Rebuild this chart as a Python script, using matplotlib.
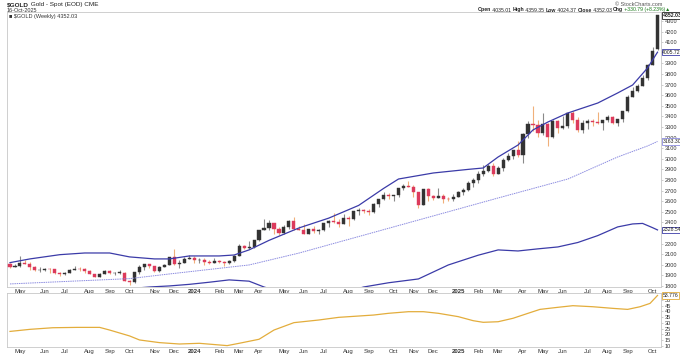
import matplotlib
matplotlib.use("Agg")
import matplotlib.pyplot as plt
import numpy as np
import pandas as pd

# ---------------- data ----------------
DATES = pd.date_range("2023-04-17", periods=131, freq="W-MON")

OPEN = [2004,1983,1990,2016,2011,1977,1946,1948,1961,1958,1921,1912,1925,1955,1962,1959,1943,1914,1889,1915,1940,1919,1924,1925,1849,1833,1932,1981,2006,1992,1940,1981,2002,2072,2004,2019,2053,
        2063,2045,2049,2029,2018,2039,2024,2013,2035,2083,2179,2155,2165,2230,2329,2344,2392,2337,2301,2360,2415,2334,2327,2293,2333,2322,2326,2391,2411,2400,2387,2443,2431,2507,2512,2503,2497,2577,2622,2658,2653,2657,2721,2747,2737,2685,2563,2716,2650,2633,2648,2622,2621,
        2640,2690,2702,2770,2800,2861,2883,2936,2858,2910,2984,3022,3085,3037,3237,3327,3319,3241,3325,3202,3357,3289,3310,3433,3368,3274,3337,3355,3350,3337,3363,3398,3336,3371,3448,3586,3643,3685,3760,3887,4035]
HIGH = [2015,2009,2081,2048,2022,1985,1983,1972,1971,1959,1930,1935,1963,1987,1983,1970,1946,1916,1922,1953,1953,1933,1947,1936,1859,1932,1997,2009,2010,1992,1988,2008,2075,2146,2047,2070,2088,
        2078,2062,2062,2041,2065,2045,2031,2041,2088,2195,2185,2223,2236,2330,2431,2418,2393,2353,2378,2422,2450,2364,2388,2342,2368,2340,2393,2424,2484,2432,2477,2462,2509,2531,2528,2529,2585,2625,2685,2673,2660,2722,2758,2790,2750,2686,2716,2721,2657,2726,2665,2638,2665,
        2697,2726,2786,2817,2887,2942,2955,2956,2930,3005,3057,3087,3168,3245,3358,3500,3368,3435,3336,3366,3365,3403,3446,3452,3398,3365,3374,3375,3439,3363,3409,3404,3379,3454,3600,3675,3707,3791,3897,4059,4359]
LOW = [1969,1975,1977,2008,1952,1937,1932,1939,1925,1910,1893,1902,1920,1946,1942,1925,1908,1885,1884,1913,1915,1901,1914,1846,1810,1831,1908,1954,1970,1932,1932,1977,1994,1994,1973,2017,2050,
       2016,2013,2001,2010,2016,2015,1984,2011,2024,2078,2146,2146,2160,2228,2328,2325,2292,2277,2291,2338,2325,2325,2287,2286,2296,2293,2319,2352,2398,2353,2380,2364,2425,2470,2491,2471,2485,2546,2614,2624,2603,2641,2708,2732,2643,2537,2563,2605,2613,2632,2583,2603,2597,
       2636,2656,2697,2730,2772,2834,2878,2833,2856,2880,2982,2999,3015,2957,3194,3260,3202,3228,3121,3200,3245,3280,3293,3340,3256,3247,3283,3310,3325,3268,3346,3331,3311,3350,3437,3585,3628,3683,3742,3885,4024]
CLOSE = [1983,1990,2016,2011,1977,1946,1948,1961,1958,1921,1912,1925,1955,1962,1959,1943,1914,1889,1915,1940,1919,1924,1925,1849,1833,1932,1981,2006,1992,1940,1981,2002,2072,2004,2019,2053,2063,
         2045,2049,2029,2018,2039,2024,2013,2035,2083,2179,2155,2165,2230,2329,2344,2392,2337,2301,2360,2415,2334,2327,2293,2333,2322,2326,2391,2411,2400,2387,2443,2431,2507,2512,2503,2497,2577,2622,2658,2653,2657,2721,2747,2737,2685,2563,2716,2650,2633,2648,2622,2621,2640,
         2690,2702,2770,2800,2861,2883,2936,2858,2910,2984,3022,3085,3037,3237,3327,3319,3241,3325,3202,3357,3289,3310,3433,3368,3274,3337,3355,3350,3337,3363,3398,3336,3371,3448,3586,3643,3685,3760,3887,4018,4352.03]

UPPER_WK = [0, 4, 10, 15, 20, 24, 29, 32, 36, 42, 45, 48, 52, 58, 64, 70, 75, 78, 85, 92, 95, 98, 102, 105, 108, 112, 118, 122, 125, 128, 130]
UPPER = [2020, 2055, 2095, 2111, 2111, 2074, 2055, 2055, 2083, 2083, 2092, 2140, 2230, 2347, 2440, 2560, 2720, 2809, 2866, 2900, 2913, 3017, 3130, 3272, 3347, 3432, 3526, 3621, 3696, 3857, 4005.72]

MID_WK = [0, 24, 32, 48, 58, 68, 78, 88, 98, 112, 122, 128, 130]
MID = [1819, 1869, 1913, 1998, 2110, 2240, 2370, 2500, 2630, 2809, 3017, 3121, 3163.30]

LOWER_WK = [20, 28, 32, 36, 40, 44, 48, 51, 56, 64, 71, 76, 82, 88, 94, 98, 102, 106, 110, 114, 118, 122, 125, 127, 129, 130]
LOWER = [1760, 1790, 1800, 1815, 1835, 1857, 1845, 1790, 1720, 1700, 1790, 1830, 1866, 1998, 2090, 2140, 2130, 2150, 2168, 2210, 2275, 2357, 2385, 2390, 2350, 2328.54]

IND_WK = [0, 4, 8.6, 13.5, 18, 20, 24, 26, 30, 34, 38, 43.6, 46, 50, 53, 57, 62, 66, 73, 76, 80, 83, 86, 90, 93, 95, 98, 101, 104, 106.4, 110, 113, 117, 121, 124, 126.5, 128.5, 130]
IND = [22.6, 24.4, 25.8, 26.1, 26.1, 23.8, 18.7, 15.2, 12.9, 11.7, 12.3, 10.3, 12.3, 15.8, 23.8, 30.2, 32.5, 34.8, 36.8, 38.3, 39.7, 39.7, 38.3, 35.4, 31.9, 30.5, 31.0, 34.0, 38.3, 41.7, 43.5, 44.9, 44.0, 42.6, 41.7, 44.0, 46.9, 53.776]

PRICE_TICKS = list(range(1800, 4301, 100))
IND_TICKS = list(range(10, 56, 5))

# ---------------- style ----------------
FONT = "Liberation Sans"
plt.rcParams["font.family"] = [FONT, "DejaVu Sans"]
W, H = 680, 355
fig = plt.figure(figsize=(W / 100, H / 100), dpi=100)
fig.patch.set_facecolor("white")

def fx(px):
    return px / W

def fy(py):
    return 1 - py / H

L_PX, R_PX = 7, 661
ax = fig.add_axes([fx(L_PX), fy(287), fx(R_PX - L_PX), (287 - 12) / H])
ax2 = fig.add_axes([fx(L_PX), fy(347), fx(R_PX - L_PX), (347 - 293) / H])

N = len(CLOSE)
xs = np.arange(N)
o = np.array(OPEN, float); h = np.array(HIGH, float); l = np.array(LOW, float); c = np.array(CLOSE, float)
prev = np.concatenate([[o[0]], c[:-1]])
down = c < prev

RED = "#dc3a5c"
BLK = "#333333"
WICK_UP = "#8a8a8a"
WICK_DN = "#f0b07a"

body_col = np.where(down, RED, BLK)
wick_col = np.where(down, WICK_DN, WICK_UP)
ax.vlines(xs, l, h, colors=wick_col, linewidth=0.8, zorder=2)
bottoms = np.minimum(o, c)
heights = np.maximum(np.abs(c - o), 4)
ax.bar(xs, heights, bottom=bottoms, width=0.62, color=body_col, edgecolor=body_col, linewidth=0.3, zorder=3)

ax.plot(UPPER_WK, UPPER, color="#3b3ba8", lw=0.9, zorder=4)
ax.plot(LOWER_WK, LOWER, color="#3b3ba8", lw=0.9, zorder=4)
ax.plot(MID_WK, MID, color="#8c8ce0", lw=0.7, ls=(0, (1.5, 0.8)), zorder=4)

XMIN, XMAX = -0.6, 130.7
ax.set_xlim(XMIN, XMAX)
ax.set_ylim(1790, 4385)
ax2.set_xlim(XMIN, XMAX)
ax2.set_ylim(9.1, 55.9)

ax2.plot(IND_WK, IND, color="#e3ad3c", lw=0.9)

# month ticks
mt_pos, mt_lab, mt_bold = [], [], []
for i, d in enumerate(DATES):
    if i == 0:
        continue
    if d.month != DATES[i - 1].month:
        mt_pos.append(i)
        if d.month == 1:
            mt_lab.append(str(d.year)); mt_bold.append(True)
        else:
            mt_lab.append(d.strftime("%b")); mt_bold.append(False)

for a in (ax, ax2):
    for s in a.spines.values():
        s.set_color("#c8c8c8")
        s.set_linewidth(0.6)
    a.set_xticks(mt_pos)
    a.set_xticklabels(mt_lab, fontsize=4.3, color="#333333")
    for t, b in zip(a.get_xticklabels(), mt_bold):
        if b:
            t.set_fontweight("bold")
    a.tick_params(axis="x", length=0, pad=1.2)
    a.yaxis.tick_right()
    a.tick_params(axis="y", length=1.5, width=0.4, color="#aaaaaa", pad=1.2, labelsize=4.1, labelcolor="#333333")

# tick labels hidden behind the value boxes (as in the reference) are left blank
HIDDEN = {4000, 2300}
ax.set_yticks(PRICE_TICKS)
ax.set_yticklabels(["" if v in HIDDEN else str(v) for v in PRICE_TICKS])
ax2.set_yticks(IND_TICKS)
ax2.set_yticklabels([str(v) for v in IND_TICKS])

# value boxes on right axis
def vbox(a, val, txt, edge, bold=False):
    a.annotate(txt, xy=(1.0, val), xycoords=("axes fraction", "data"),
               xytext=(1.0, 0), textcoords="offset points", va="center", ha="left",
               fontsize=3.7, fontweight="bold" if bold else "normal", color="#222222",
               bbox=dict(boxstyle="square,pad=0.12", fc="white", ec=edge, lw=0.6), zorder=10,
               annotation_clip=False)

vbox(ax, CLOSE[-1], f"{CLOSE[-1]:.2f}", "#222222", bold=True)
vbox(ax, UPPER[-1], f"{UPPER[-1]:.2f}", "#3b3ba8")
vbox(ax, MID[-1], f"{MID[-1]:.2f}", "#8c8ce0")
vbox(ax, LOWER[-1], f"{LOWER[-1]:.2f}", "#3b3ba8")
vbox(ax2, IND[-1], f"{IND[-1]:.3f}", "#e3ad3c")

# header texts
fig.canvas.draw()
renderer = fig.canvas.get_renderer()

def run(x_px, y_px, pieces, size=4.5, color="#222222"):
    x = x_px
    for txt, bold, col in pieces:
        t = fig.text(fx(x), fy(y_px), txt, fontsize=size, fontweight="bold" if bold else "normal",
                     color=col or color, va="center", ha="left")
        bb = t.get_window_extent(renderer=renderer)
        x += bb.width

run(7, 4.5, [("$GOLD", True, None), (" Gold - Spot (EOD) CME", False, None)], size=4.6)
fig.text(fx(7), fy(10), "16-Oct-2025", fontsize=4.0, color="#333333", va="center", ha="left")
fig.text(fx(9), fy(16.5), "\u25A0 $GOLD (Weekly) 4352.03", fontsize=4.0, color="#333333", va="center", ha="left")
fig.text(fx(662), fy(4), "\u00A9 StockCharts.com", fontsize=4.0, color="#555555", va="center", ha="right")
run(478, 10, [("Open", True, None), (" 4035.01 ", False, None), ("High", True, None), (" 4359.35 ", False, None),
              ("Low", True, None), (" 4024.37 ", False, None), ("Close", True, None), (" 4352.03 ", False, None),
              ("Chg", True, None), (" +330.79 (+8.23%)\u25B2", False, "#1a7a1a")], size=3.7)

fig.savefig("out.png", dpi=100, facecolor="white")
